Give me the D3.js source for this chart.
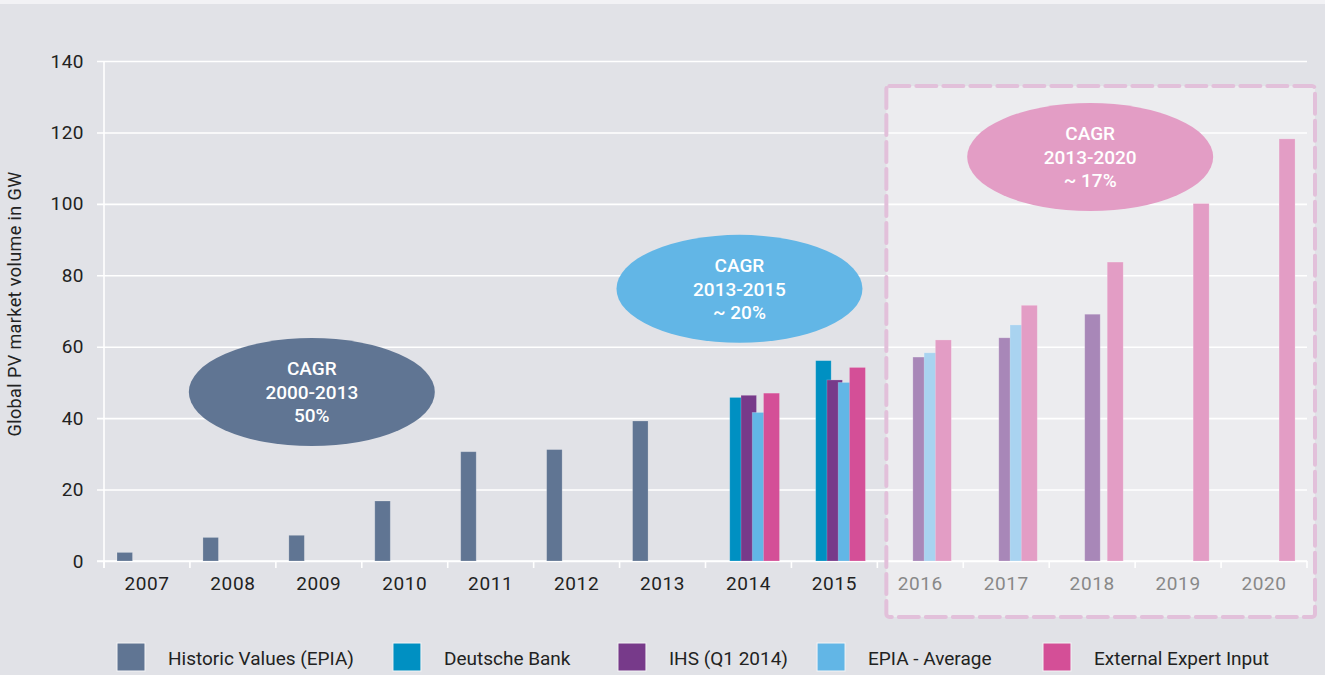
<!DOCTYPE html>
<html>
<head>
<meta charset="utf-8">
<script src="https://cdn.jsdelivr.net/npm/d3@7/dist/d3.min.js"></script>
<style>
  body { margin: 0; background: #e1e2e7; }
  svg text { font-family: Roboto, "Open Sans", sans-serif; }
</style>
</head>
<body>
<script>
var W = 1325, H = 675;

// categories
var years = ['2007','2008','2009','2010','2011','2012','2013','2014','2015','2016','2017','2018','2019','2020'];
var forecastFrom = '2016';

// series values in GW (null = no bar)
var historic     = [2.4, 6.6, 7.2, 16.8, 30.6, 31.2, 39.2, null, null, null, null, null, null, null];
var deutscheBank = [null, null, null, null, null, null, null, 45.8, 56.1, null, null, null, null, null];
var ihs          = [null, null, null, null, null, null, null, 46.4, 50.7, 57.1, 62.5, 69.1, null, null];
var epiaAverage  = [null, null, null, null, null, null, null, 41.6, 50.0, 58.3, 66.1, null, null, null];
var external     = [null, null, null, null, null, null, null, 47.0, 54.2, 61.9, 71.6, 83.7, 100.1, 118.2];

var seriesNames = ['Historic Values (EPIA)', 'Deutsche Bank', 'IHS (Q1 2014)', 'EPIA - Average', 'External Expert Input'];
var yTicks = [0, 20, 40, 60, 80, 100, 120, 140];

// CAGR bubbles
var cagrLines = [
  ['CAGR', '2000-2013', '50%'],
  ['CAGR', '2013-2015', '~ 20%'],
  ['CAGR', '2013-2020', '~ 17%']
];
var cagrYears = ['2009', '2014', '2018'];
var cagrValues = [47.3, 76.2, 113.1];

var colors   = ['#607593', '#0090c2', '#773a8a', '#62b6e6', '#d44f97'];
var fcColors = ['#607593', '#0090c2', '#a887b8', '#a9d3f0', '#e39dc5'];
var bubbleColors = ['#607593', '#62b6e6', '#e39dc5'];
var bubbleDx = [-7, -9, -2];

var series = [historic, deutscheBank, ihs, epiaAverage, external];

var plotLeft = 104, plotRight = 1307, plotTop = 61, plotBottom = 561;

var svg = d3.select('body').append('svg')
    .attr('width', W)
    .attr('height', H);

svg.append('rect').attr('width', W).attr('height', H).attr('fill', '#e1e2e7');
svg.append('rect').attr('width', W).attr('height', 4).attr('fill', '#f2f2f5');

// Scales
var x = d3.scaleBand().domain(years).range([plotLeft, plotRight]);
var sx = d3.scalePoint().domain(d3.range(5)).range([13, 58]);
var y = d3.scaleLinear().domain([0, 140]).range([plotBottom, plotTop]);
// legend slots share the plot width
var legendX = d3.scaleLinear().domain([0, 1]).range([117, 1043]);
var legendSlots = [0, 0.298, 0.541, 0.756, 1];

// forecast box background
var fx0 = x(forecastFrom) + 9;
svg.append('rect')
    .attr('x', fx0)
    .attr('y', 86)
    .attr('width', 1315 - fx0)
    .attr('height', 617 - 86)
    .attr('fill', '#ececef');

// Y-axis with gridlines
var yAxis = d3.axisLeft(y)
    .tickValues(yTicks)
    .tickSize(-(plotRight - 97))
    .tickPadding(13);

var gy = svg.append('g')
    .attr('transform', 'translate(97,0)')
    .call(yAxis);
gy.select('.domain').remove();
gy.selectAll('line').attr('stroke', '#ffffff').attr('stroke-width', 1.6);
gy.selectAll('text')
    .attr('fill', '#222')
    .style('font-size', '19px')
    .style('letter-spacing', '0.5px');

// vertical axis line
svg.append('line')
    .attr('x1', plotLeft).attr('x2', plotLeft)
    .attr('y1', plotTop).attr('y2', plotBottom + 7)
    .attr('stroke', '#fff').attr('stroke-width', 1.6);

// X-axis
var xAxis = d3.axisBottom(x).tickSize(0).tickPadding(16);
var gx = svg.append('g')
    .attr('transform', 'translate(0,' + plotBottom + ')')
    .call(xAxis);
gx.select('.domain').remove();
gx.selectAll('text')
    .style('font-size', '19px')
    .style('letter-spacing', '0.6px')
    .attr('fill', function(d) { return d >= forecastFrom ? '#888' : '#222'; });

svg.append('line')
    .attr('x1', 97).attr('x2', plotRight)
    .attr('y1', plotBottom).attr('y2', plotBottom)
    .attr('stroke', '#fff').attr('stroke-width', 1.6);

svg.selectAll('.sep')
    .data(years.concat(['end']))
    .enter().append('line')
    .attr('class', 'sep')
    .attr('x1', function(d) { return d === 'end' ? plotRight : x(d); })
    .attr('x2', function(d) { return d === 'end' ? plotRight : x(d); })
    .attr('y1', plotBottom).attr('y2', plotBottom + 7)
    .attr('stroke', '#fff').attr('stroke-width', 1.6);

// Bars
series.forEach(function(vals, si) {
    var rows = years.map(function(yr, i) { return { year: yr, v: vals[i] }; })
        .filter(function(d) { return d.v != null; });
    svg.append('g').selectAll('rect')
        .data(rows)
        .enter().append('rect')
        .attr('x', function(d) { return x(d.year) + sx(si); })
        .attr('width', si === 4 ? 16 : 15.5)
        .attr('y', function(d) { return y(d.v); })
        .attr('height', function(d) { return y(0) - y(d.v); })
        .attr('fill', function(d) { return d.year >= forecastFrom ? fcColors[si] : colors[si]; })
        .attr('stroke', 'rgba(255,255,255,0.25)')
        .attr('stroke-width', 0.8);
});

// forecast box dashed border
svg.append('rect')
    .attr('x', fx0)
    .attr('y', 86)
    .attr('width', 1315 - fx0)
    .attr('height', 617 - 86)
    .attr('rx', 3)
    .attr('fill', 'none')
    .attr('stroke', '#e2c0da')
    .attr('stroke-width', 4)
    .attr('stroke-dasharray', '20 7')
    .attr('stroke-linecap', 'round');

// CAGR bubbles
cagrLines.forEach(function(lines, i) {
    var cx = x(cagrYears[i]) + x.bandwidth() / 2 + bubbleDx[i];
    var cy = y(cagrValues[i]);
    var g = svg.append('g');
    g.append('ellipse')
        .attr('cx', cx).attr('cy', cy)
        .attr('rx', 123).attr('ry', 54)
        .attr('fill', bubbleColors[i]);
    g.selectAll('text')
        .data(lines)
        .enter().append('text')
        .attr('x', cx)
        .attr('y', function(d, j) { return cy + (j - 1) * 23.5; })
        .attr('dy', '0.35em')
        .attr('text-anchor', 'middle')
        .attr('fill', '#fff')
        .style('font-size', '19px')
        .style('font-weight', 500)
        .text(function(d) { return d; });
});

// Y-axis label
svg.append('text')
    .attr('transform', 'translate(21,' + 304 + ') rotate(-90)')
    .attr('text-anchor', 'middle')
    .attr('fill', '#222')
    .style('font-size', '18px')
    .style('letter-spacing', '0.4px')
    .text('Global PV market volume in GW');

// Legend
seriesNames.forEach(function(name, i) {
    var lx = legendX(legendSlots[i]);
    var g = svg.append('g');
    g.append('rect')
        .attr('x', lx).attr('y', 643)
        .attr('width', 28).attr('height', 28)
        .attr('fill', colors[i])
        .attr('stroke', '#f4f4f6').attr('stroke-width', 1);
    g.append('text')
        .attr('x', lx + 51).attr('y', 658)
        .attr('dy', '0.35em')
        .attr('fill', '#222')
        .style('font-size', '19px')
        .text(name);
});
</script>
</body>
</html>
